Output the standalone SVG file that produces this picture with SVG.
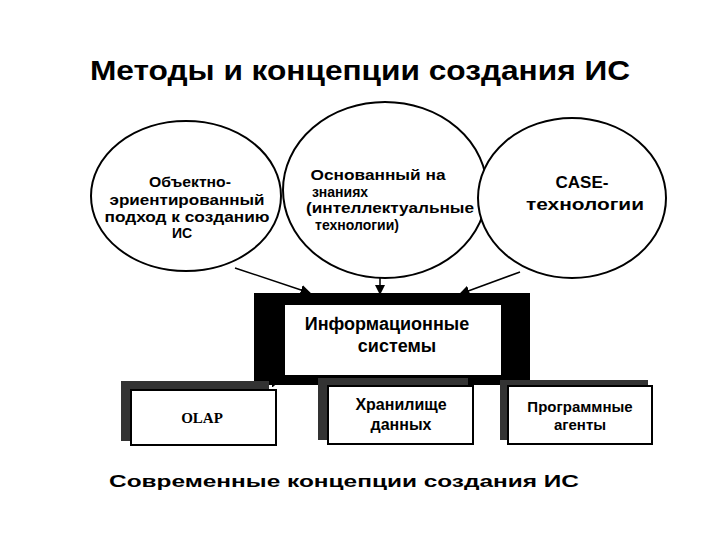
<svg xmlns="http://www.w3.org/2000/svg" width="720" height="540" viewBox="0 0 720 540">
<defs>
<marker id="ah" viewBox="0 0 10 10" refX="9" refY="5" markerWidth="7" markerHeight="7" orient="auto"><path d="M0,0L10,5L0,10z" fill="#000"/></marker>
<style>
.t{font-family:"Liberation Sans",Arial,sans-serif;font-weight:bold;fill:#000;text-anchor:middle}
.e{fill:#fff;stroke:#000;stroke-width:2}
.c{stroke:#000;stroke-width:1.5;fill:none;marker-end:url(#ah)}
.sh{fill:#333}
.b{fill:#fff;stroke:#000;stroke-width:2}
</style>
</defs>
<rect width="720" height="540" fill="#fff"/>
<text class="t" x="360" y="80" font-size="27" textLength="540" lengthAdjust="spacingAndGlyphs">Методы и концепции создания ИС</text>
<g id="connectors">
<line class="c" x1="235" y1="268" x2="310" y2="293"/>
<line class="c" x1="380" y1="276" x2="380" y2="294"/>
<line class="c" x1="520" y1="272" x2="460" y2="294"/>
<line class="c" x1="225" y1="395" x2="280" y2="380"/>
<line class="c" x1="393" y1="405" x2="393" y2="384"/>
<line class="c" x1="560" y1="395" x2="500" y2="380"/>
</g>
<g id="n1"><ellipse class="e" cx="186" cy="196" rx="95" ry="75" stroke-width="3"/>
<text class="t" font-size="14" x="190" y="187" textLength="82" lengthAdjust="spacingAndGlyphs">Объектно-</text>
<text class="t" font-size="14" x="187" y="205" textLength="155" lengthAdjust="spacingAndGlyphs">эриентированный</text>
<text class="t" font-size="14" x="187" y="222" textLength="165" lengthAdjust="spacingAndGlyphs">подход к созданию</text>
<text class="t" font-size="14" x="182" y="238">ИС</text></g>
<g id="n2"><ellipse class="e" cx="385" cy="190" rx="102" ry="88" stroke-width="4"/>
<text class="t" font-size="14" x="378" y="180" textLength="135" lengthAdjust="spacingAndGlyphs">Основанный на</text>
<text class="t" font-size="14" x="340" y="197">знаниях</text>
<text class="t" font-size="14" x="390" y="213" textLength="168" lengthAdjust="spacingAndGlyphs">(интеллектуальные</text>
<text class="t" font-size="14" x="357" y="230">технологии)</text></g>
<g id="n3"><ellipse class="e" cx="572" cy="198" rx="94" ry="80" stroke-width="3"/>
<text class="t" font-size="17" x="582" y="188">CASE-</text>
<text class="t" font-size="17" x="585" y="210" textLength="118" lengthAdjust="spacingAndGlyphs">технологии</text></g>
<g id="n4"><rect x="254" y="293" width="276" height="92" fill="#000"/>
<rect class="b" x="284" y="304" width="218" height="72"/>
<text class="t" font-size="18" x="387" y="330">Информационные</text>
<text class="t" font-size="18" x="397" y="352">системы</text></g>
<g id="n5"><rect class="sh" x="121" y="381" width="148" height="60"/>
<rect class="b" x="131" y="390" width="145" height="55"/>
<text class="t" font-size="15" x="202" y="423" style="font-family:'Liberation Serif',serif">OLAP</text></g>
<g id="n6"><rect class="sh" x="318" y="378" width="150" height="62"/>
<rect class="b" x="328" y="386" width="145" height="58"/>
<text class="t" font-size="16" x="401" y="410">Хранилище</text>
<text class="t" font-size="16" x="401" y="430">данных</text></g>
<g id="n7"><rect class="sh" x="500" y="380" width="148" height="60"/>
<rect class="b" x="508" y="386" width="144" height="58"/>
<text class="t" font-size="15" x="580" y="412">Программные</text>
<text class="t" font-size="15" x="580" y="430">агенты</text></g>
<text class="t" font-size="17" x="344" y="487" textLength="470" lengthAdjust="spacingAndGlyphs">Современные концепции создания ИС</text>
</svg>
